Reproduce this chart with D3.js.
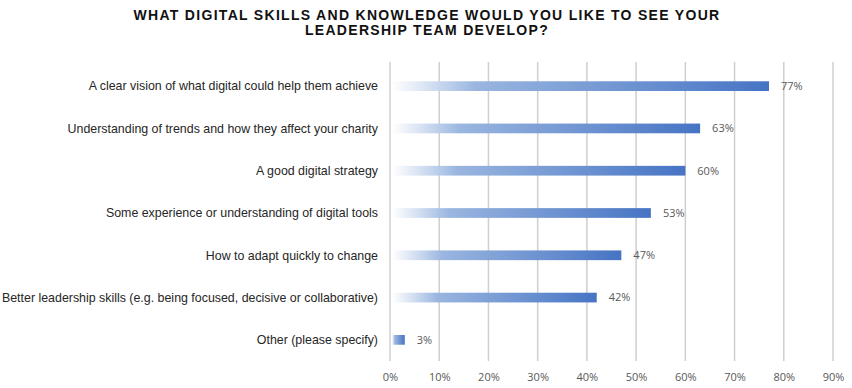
<!DOCTYPE html>
<html>
<head>
<meta charset="utf-8">
<script src="https://cdn.jsdelivr.net/npm/d3@7"></script>
<style>
  body { margin: 0; background: #fff; }
  svg { display: block; }
</style>
</head>
<body>
<script>
var categories = [
  'A clear vision of what digital could help them achieve',
  'Understanding of trends and how they affect your charity',
  'A good digital strategy',
  'Some experience or understanding of digital tools',
  'How to adapt quickly to change',
  'Better leadership skills (e.g. being focused, decisive or collaborative)',
  'Other (please specify)'
];
var values = [77, 63, 60, 53, 47, 42, 3];
var ticks = [0, 10, 20, 30, 40, 50, 60, 70, 80, 90];
var titleLines = ['WHAT DIGITAL SKILLS AND KNOWLEDGE WOULD YOU LIKE TO SEE YOUR', 'LEADERSHIP TEAM DEVELOP?'];

var svgWidth = 852;
var svgHeight = 388;
var svg = d3.select('body')
    .append('svg')
    .attr('width', svgWidth)
    .attr('height', svgHeight);

var defs = svg.append('defs');
var grad = defs.append('linearGradient')
    .attr('id', 'barGrad')
    .attr('x1', '0%').attr('x2', '100%')
    .attr('y1', '0%').attr('y2', '0%');
grad.append('stop').attr('offset', '0%').attr('stop-color', '#ffffff').attr('stop-opacity', 0.9);
grad.append('stop').attr('offset', '22%').attr('stop-color', '#9ab6e0');
grad.append('stop').attr('offset', '100%').attr('stop-color', '#4674c4');

var x = d3.scaleLinear().domain([0, 90]).range([390, 833]);
var y = d3.scaleBand().domain(categories).range([65, 361]).paddingInner(0.77).paddingOuter(0.385);

// title
svg.append('g').selectAll('text')
    .data(titleLines)
    .enter()
    .append('text')
        .attr('x', 427)
        .attr('y', function (d, i) { return 19.5 + i * 15; })
        .attr('text-anchor', 'middle')
        .attr('font-family', 'Liberation Sans, Arial, sans-serif')
        .attr('font-weight', 'bold')
        .attr('font-size', 14)
        .attr('letter-spacing', 1.3)
        .attr('fill', '#111')
        .text(function (d) { return d; });

// gridlines
svg.append('g').selectAll('line')
    .data(ticks)
    .enter()
    .append('line')
        .attr('x1', function (d) { return x(d); })
        .attr('x2', function (d) { return x(d); })
        .attr('y1', 62)
        .attr('y2', 361)
        .attr('stroke', '#cfcfcf')
        .attr('stroke-width', 1.5);

// x axis labels
var xAxis = d3.axisBottom(x).tickValues(ticks).tickSize(0).tickPadding(0)
    .tickFormat(function (d) { return d + '%'; });
var ax = svg.append('g').attr('transform', 'translate(0,373)').call(xAxis);
ax.select('.domain').remove();
ax.selectAll('text')
    .attr('font-family', 'Open Sans, sans-serif')
    .attr('font-size', 11)
    .attr('fill', '#595959');

// bars
svg.append('g').selectAll('rect')
    .data(values)
    .enter()
    .append('rect')
        .attr('x', x(0) + 2)
        .attr('y', function (d, i) { return y(categories[i]); })
        .attr('width', function (d) { return x(d) - x(0) - 2; })
        .attr('height', y.bandwidth())
        .attr('fill', 'url(#barGrad)');

// value labels
svg.append('g').selectAll('text')
    .data(values)
    .enter()
    .append('text')
        .attr('x', function (d) { return x(d) + 12; })
        .attr('y', function (d, i) { return y(categories[i]) + y.bandwidth() / 2; })
        .attr('dy', '0.35em')
        .attr('font-family', 'Open Sans, sans-serif')
        .attr('font-size', 11)
        .attr('fill', '#595959')
        .text(function (d) { return d + '%'; });

// category labels
svg.append('g').selectAll('text')
    .data(categories)
    .enter()
    .append('text')
        .attr('x', 378)
        .attr('y', function (d) { return y(d) + y.bandwidth() / 2; })
        .attr('dy', '0.35em')
        .attr('text-anchor', 'end')
        .attr('font-family', 'Liberation Sans, Arial, sans-serif')
        .attr('font-size', 12.4)
        .attr('fill', '#262626')
        .text(function (d) { return d; });
</script>
</body>
</html>
